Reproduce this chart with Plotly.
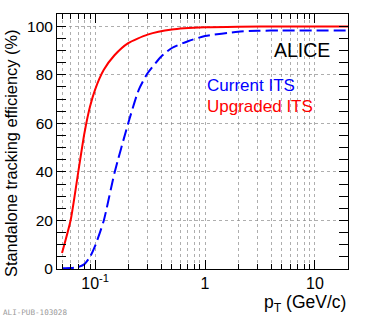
import plotly.graph_objects as go
import math

# Data
pt_upgraded = [0.05, 0.06, 0.07, 0.08, 0.09, 0.10, 0.12, 0.15, 0.20, 0.30, 0.50, 1.0, 2.0, 5.0, 20.0]
eff_upgraded = [6.6, 20.3, 39.5, 56.0, 67.0, 73.9, 82.0, 88.0, 93.0, 96.5, 98.6, 99.5, 99.8, 99.9, 99.9]

pt_current = [0.05, 0.06, 0.07, 0.08, 0.09, 0.10, 0.12, 0.15, 0.20, 0.25, 0.30, 0.40, 0.50, 0.70, 1.0, 2.0, 3.0, 5.0, 20.0]
eff_current = [0.3, 0.4, 0.8, 2.0, 5.0, 9.5, 20.0, 39.5, 60.0, 73.9, 80.6, 87.5, 91.0, 93.8, 95.9, 97.7, 98.1, 98.2, 98.2]

x_tickvals = [0.1, 1, 10]
x_ticktext = ["10<sup>-1</sup>", "1", "10"]
x_minorvals = [0.05, 0.06, 0.07, 0.08, 0.09,
               0.2, 0.3, 0.4, 0.5, 0.6, 0.7, 0.8, 0.9,
               2, 3, 4, 5, 6, 7, 8, 9]
y_tickvals = [0, 20, 40, 60, 80, 100]

FONT = "Liberation Sans, Arial, sans-serif"
XRANGE = [math.log10(0.045), math.log10(20)]

fig = go.Figure()
fig.add_trace(go.Scatter(x=pt_current, y=eff_current, mode="lines", xaxis="x2",
                         line=dict(color="#0000ff", width=2, dash="12px,5px", shape="spline", smoothing=0.6),
                         showlegend=False))
fig.add_trace(go.Scatter(x=pt_upgraded, y=eff_upgraded, mode="lines",
                         line=dict(color="#ff0000", width=2, shape="spline", smoothing=0.6),
                         showlegend=False))

grid = "rgba(140,140,140,0.7)"
common_x = dict(type="log", range=XRANGE, automargin=False, zeroline=False,
                showgrid=True, gridcolor=grid, griddash="dot", gridwidth=1,
                tickcolor="black", mirror="allticks", ticks="inside")
fig.update_layout(
    xaxis=dict(**common_x, tickmode="array", tickvals=x_tickvals, ticktext=x_ticktext,
               ticklen=9, showline=True, linecolor="black", linewidth=1,
               tickfont=dict(family=FONT, size=16, color="black")),
    xaxis2=dict(**common_x, overlaying="x", side="bottom", tickmode="array",
                tickvals=x_minorvals, ticklen=5, showticklabels=False, showline=False),
    yaxis=dict(range=[0, 105], tickmode="array", tickvals=y_tickvals, automargin=False,
               ticks="inside", ticklen=9, tickcolor="black", mirror="allticks",
               showline=True, linecolor="black", linewidth=1,
               showgrid=True, gridcolor=grid, griddash="dot", gridwidth=1,
               tickfont=dict(family=FONT, size=15.5, color="black"),
               minor=dict(ticks="inside", ticklen=5, tickcolor="black", dtick=5, showgrid=False),
               zeroline=False),
)

fig.add_annotation(text="ALICE", xref="paper", yref="paper", x=0.8426, y=0.859,
                   showarrow=False, xanchor="center", yanchor="middle",
                   font=dict(family=FONT, size=19.5, color="black"))
fig.add_annotation(text="Current ITS", xref="paper", yref="paper", x=0.508, y=0.7177,
                   showarrow=False, xanchor="left", yanchor="middle",
                   font=dict(family=FONT, size=17, color="#0000ff"))
fig.add_annotation(text="Upgraded ITS", xref="paper", yref="paper", x=0.508, y=0.6357,
                   showarrow=False, xanchor="left", yanchor="middle",
                   font=dict(family=FONT, size=17, color="#ff0000"))
fig.add_annotation(text="p<sub>T</sub> (GeV/c)", xref="paper", yref="paper", x=1.0, y=-0.135,
                   showarrow=False, xanchor="right", yanchor="middle",
                   font=dict(family=FONT, size=17.5, color="black"))
fig.add_annotation(text="Standalone tracking efficiency (%)", xref="paper", yref="paper",
                   x=-0.1557, y=0.4536, textangle=-90,
                   showarrow=False, xanchor="center", yanchor="middle",
                   font=dict(family=FONT, size=16.4, color="black"))
fig.add_annotation(text="ALI-PUB-103028", xref="paper", yref="paper",
                   x=-0.191, y=-0.171, showarrow=False, xanchor="left", yanchor="middle",
                   font=dict(family="DejaVu Sans Mono, monospace", size=7.6, color="#999999"))

fig.update_layout(width=370, height=318,
                  margin=dict(l=57, r=22, t=14, b=49, autoexpand=False),
                  paper_bgcolor="white", plot_bgcolor="white")

fig.write_html("out.html", config={"displayModeBar": False},
               post_script="document.body.style.margin='0px';")
